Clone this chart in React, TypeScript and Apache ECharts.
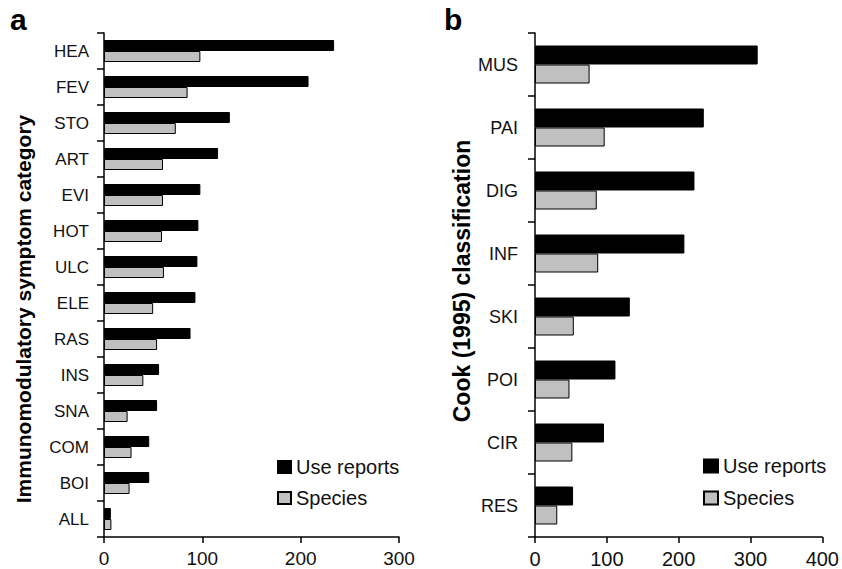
import React, { useEffect, useRef } from "react";
import * as echarts from "echarts";

const catsA = ["HEA", "FEV", "STO", "ART", "EVI", "HOT", "ULC", "ELE", "RAS", "INS", "SNA", "COM", "BOI", "ALL"];
const useA = [234, 208, 128, 116, 98, 96, 95, 93, 88, 56, 54, 46, 46, 7];
const speciesA = [98, 85, 73, 60, 60, 59, 61, 50, 54, 40, 24, 28, 26, 7.5];

const catsB = ["MUS", "PAI", "DIG", "INF", "SKI", "POI", "CIR", "RES"];
const useB = [310, 235, 222, 208, 132, 112, 96, 53];
const speciesB = [76, 97, 86, 88, 54, 48, 52, 31];

const FONT = "Liberation Sans, Arial, sans-serif";

export default function App() {
  const ref = useRef<HTMLDivElement>(null);
  useEffect(() => {
    if (!ref.current) return;
    const chart = echarts.init(ref.current, undefined, { renderer: "svg" });
    const blackStyle = { color: "#000000", borderColor: "#000000", borderWidth: 1 };
    const grayStyle = { color: "#c0c0c0", borderColor: "#000000", borderWidth: 1 };
    const catAxis = (data: string[], grid: number, fontSize: number, margin: number) => ({
      type: "category",
      gridIndex: grid,
      data,
      inverse: true,
      axisLine: { show: true, lineStyle: { color: "#000", width: 1.5 } },
      axisTick: { show: true, length: 7, lineStyle: { color: "#000", width: 1.5 } },
      axisLabel: { color: "#111", fontSize, fontFamily: FONT, margin },
    });
    const valAxis = (grid: number, max: number, fontSize: number) => ({
      type: "value",
      gridIndex: grid,
      min: 0,
      max,
      interval: 100,
      splitLine: { show: false },
      axisLine: { show: true, lineStyle: { color: "#000", width: 1.5 } },
      axisTick: { show: true, length: 6, lineStyle: { color: "#000", width: 1.5 } },
      axisLabel: { color: "#111", fontSize, fontFamily: FONT, margin: 12 },
    });
    chart.setOption({
      animation: false,
      backgroundColor: "#ffffff",
      grid: [
        { left: 104, top: 33, width: 295, height: 504, containLabel: false },
        { left: 535, top: 33, width: 288, height: 504, containLabel: false },
      ],
      xAxis: [valAxis(0, 300, 19), valAxis(1, 400, 20)],
      yAxis: [catAxis(catsA, 0, 17, 15), catAxis(catsB, 1, 18, 17)],
      legend: [
        {
          data: ["Use reports", "Species"],
          orient: "vertical",
          left: 272,
          top: 452,
          itemWidth: 13,
          itemHeight: 12,
          itemGap: 11,
          icon: "rect",
          textStyle: { fontSize: 20, fontFamily: FONT, color: "#111" },
          selectedMode: false,
        },
        {
          data: ["Use reports", "Species"],
          orient: "vertical",
          left: 698,
          top: 451,
          itemWidth: 14,
          itemHeight: 13,
          itemGap: 12,
          icon: "rect",
          textStyle: { fontSize: 20, fontFamily: FONT, color: "#111" },
          selectedMode: false,
        },
      ],
      graphic: [
        { type: "text", left: 10, top: 4, style: { text: "a", fontSize: 30, fontWeight: "bold", fontFamily: FONT, fill: "#000" } },
        { type: "text", left: 444, top: 4, style: { text: "b", fontSize: 30, fontWeight: "bold", fontFamily: FONT, fill: "#000" } },
        {
          type: "text",
          x: 23,
          y: 309,
          rotation: Math.PI / 2,
          style: { text: "Immunomodulatory symptom category", fontSize: 21, fontWeight: "bold", fontFamily: FONT, fill: "#000", align: "center", verticalAlign: "middle" },
        },
        {
          type: "text",
          x: 462,
          y: 281,
          rotation: Math.PI / 2,
          style: { text: "Cook (1995) classification", fontSize: 23, fontWeight: "bold", fontFamily: FONT, fill: "#000", align: "center", verticalAlign: "middle" },
        },
      ],
      series: [
        { name: "Use reports", type: "bar", xAxisIndex: 0, yAxisIndex: 0, data: useA, barWidth: 11, barGap: "0%", itemStyle: blackStyle },
        { name: "Species", type: "bar", xAxisIndex: 0, yAxisIndex: 0, data: speciesA, barWidth: 11, barGap: "0%", itemStyle: grayStyle },
        { name: "Use reports", type: "bar", xAxisIndex: 1, yAxisIndex: 1, data: useB, barWidth: 19, barGap: "0%", itemStyle: blackStyle },
        { name: "Species", type: "bar", xAxisIndex: 1, yAxisIndex: 1, data: speciesB, barWidth: 19, barGap: "0%", itemStyle: grayStyle },
      ],
    });
    return () => chart.dispose();
  }, []);
  return <div ref={ref} style={{ position: "absolute", left: 0, top: 0, width: 842, height: 569 }} />;
}
